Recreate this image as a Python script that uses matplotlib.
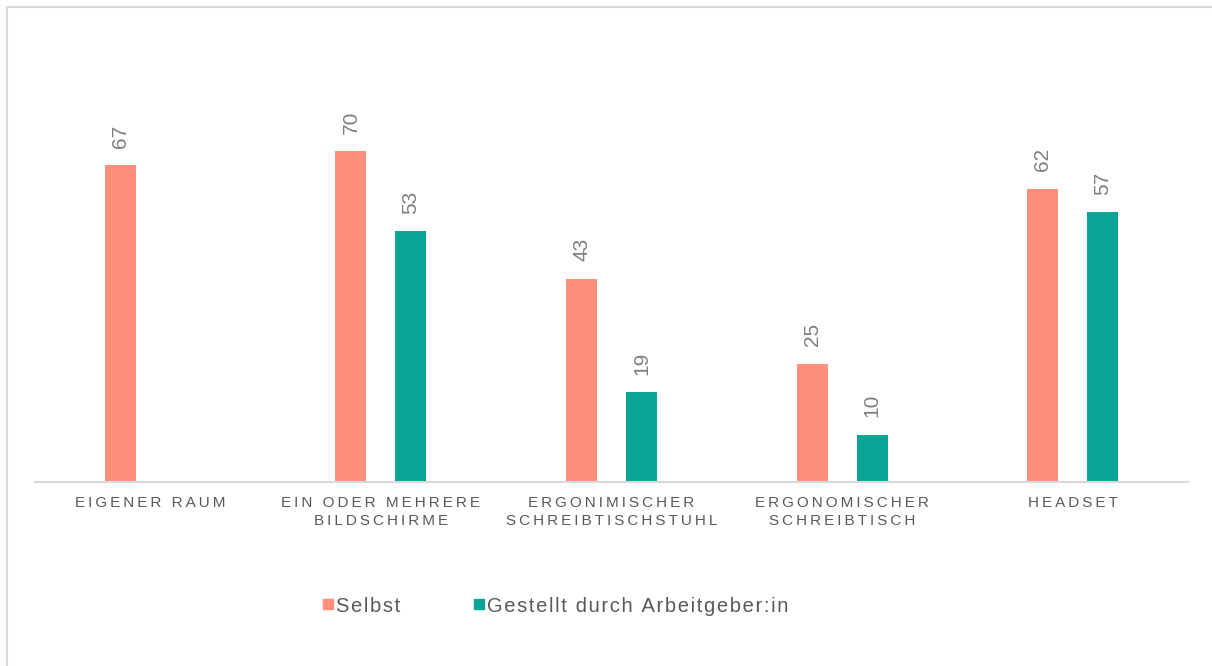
import matplotlib.pyplot as plt
import matplotlib.lines as mlines
import matplotlib.patches as mpatches
import numpy as np

categories = [
    "EIGENER RAUM",
    "EIN ODER MEHRERE\nBILDSCHIRME",
    "ERGONIMISCHER\nSCHREIBTISCHSTUHL",
    "ERGONOMISCHER\nSCHREIBTISCH",
    "HEADSET",
]
selbst = [67, 70, 43, 25, 62]
gestellt = [None, 53, 19, 10, 57]
series_names = ["Selbst", "Gestellt durch Arbeitgeber:in"]

C_SELBST = "#FF8E7A"
C_GESTELLT = "#0AA397"
FONT = ["Liberation Sans", "DejaVu Sans"]


def track(s, sp):
    """Fake letter spacing by putting a narrow space between characters."""
    return "\n".join(sp.join(line) for line in s.split("\n"))


fig = plt.figure(figsize=(12.12, 6.66), dpi=100)
W, H = 1212, 666
ax = fig.add_axes([35 / W, 184 / H, (1188 - 35) / W, (482 - 30) / H])

# outer frame, cropped at the right and bottom like the reference
fig.patches.append(mpatches.Rectangle(
    (7 / W, -0.1), 1.2, (666 - 7) / H + 0.1, transform=fig.transFigure,
    fill=False, edgecolor="#D9D9D9", linewidth=1.5))

x = np.arange(len(categories))
bw = 0.135
off = 0.13
for i in range(len(categories)):
    pairs = [(selbst[i], -off, C_SELBST), (gestellt[i], off, C_GESTELLT)]
    for v, dx, c in pairs:
        if v is None:
            continue
        ax.bar(x[i] + dx, v, width=bw, color=c, zorder=2)
        ax.annotate(str(v), (x[i] + dx, v), xytext=(0, 12.5),
                    textcoords="offset points", rotation=90,
                    ha="center", va="bottom", fontsize=15,
                    color="#7F7F7F", family=FONT)

ax.set_xlim(-0.5, 4.5)
ax.set_ylim(0, 452 / 4.73)
for s in ["top", "right", "left"]:
    ax.spines[s].set_visible(False)
ax.spines["bottom"].set_color("#D9D9D9")
ax.spines["bottom"].set_linewidth(1.5)
ax.set_yticks([])
ax.set_xticks(x)
ax.set_xticklabels([track(c, "\u2009") for c in categories],
                   fontsize=11, color="#595959", family=FONT,
                   linespacing=1.4)
ax.tick_params(axis="x", length=0, pad=10)

handles = [
    mlines.Line2D([], [], color=C_SELBST, marker="s", linestyle="None",
                  markersize=7, label=track(series_names[0], "\u200a")),
    mlines.Line2D([], [], color=C_GESTELLT, marker="s", linestyle="None",
                  markersize=7, label=track(series_names[1], "\u200a")),
]
fig.legend(handles=handles, loc="center", bbox_to_anchor=(555 / W, 1 - 606 / H),
           ncol=2, frameon=False, handlelength=0.6, handletextpad=0.1,
           columnspacing=3.6, prop={"family": FONT, "size": 14.5},
           labelcolor="#595959")

fig.savefig("out.png", dpi=100)
